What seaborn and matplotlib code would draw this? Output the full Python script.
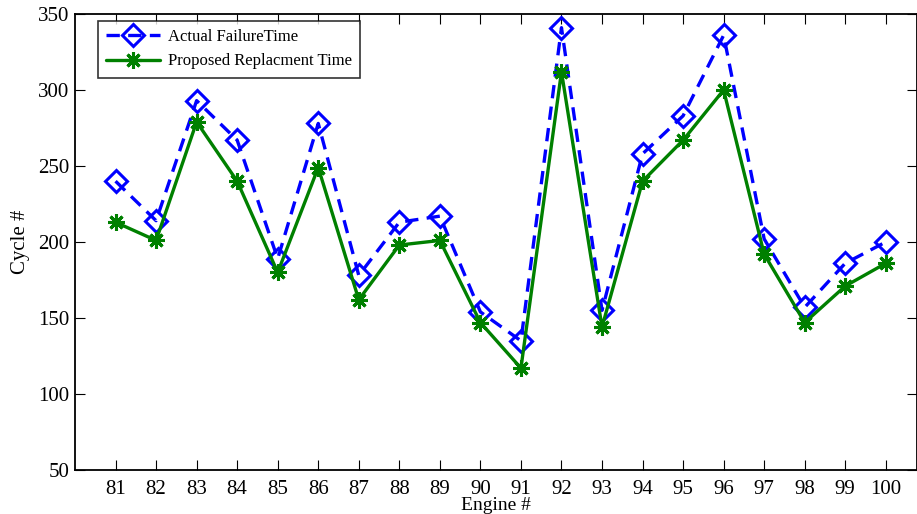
import matplotlib
matplotlib.use("Agg")
import matplotlib.pyplot as plt
import seaborn as sns
import pandas as pd

engines = list(range(81, 101))
actual_failure = [240, 214, 293, 267, 189, 278, 178, 213, 217, 154,
                  135, 341, 155, 258, 283, 336, 202, 157, 186, 200]
proposed_replacement = [213, 201, 279, 240, 180, 249, 162, 198, 201, 147,
                        117, 312, 144, 240, 267, 300, 192, 147, 171, 186]
xtick_labels = [str(e) for e in engines]
yticks = [50, 100, 150, 200, 250, 300, 350]

sns.set_theme(style="white")
plt.rcParams['font.family'] = ['Liberation Serif', 'DejaVu Serif']
plt.rcParams['text.color'] = 'black'
plt.rcParams['axes.labelcolor'] = 'black'
plt.rcParams['xtick.color'] = 'black'
plt.rcParams['ytick.color'] = 'black'

df = pd.DataFrame({"Engine": engines, "Actual": actual_failure,
                   "Proposed": proposed_replacement})

fig = plt.figure(figsize=(9.17, 5.14), dpi=100)
ax = fig.add_axes([0.0818, 0.0856, 0.9182, 0.8872])

sns.lineplot(data=df, x="Engine", y="Actual", ax=ax, color=(0, 0, 1),
             linewidth=2.4, marker='D', markersize=11, markerfacecolor='none',
             markeredgecolor=(0, 0, 1), markeredgewidth=2.2,
             label="Actual FailureTime")
ax.lines[-1].set_dashes((4, 2.5))
sns.lineplot(data=df, x="Engine", y="Proposed", ax=ax, color=(0, 0.5, 0),
             linewidth=2.4, marker=(8, 2, 0), markersize=12,
             markeredgecolor=(0, 0.5, 0), markeredgewidth=2.2,
             label="Proposed Replacment Time")

ax.set_xlim(80, 100.77)
ax.set_ylim(50, 350)
ax.set_xticks(engines)
ax.set_xticklabels(xtick_labels)
ax.set_yticks(yticks)
ax.set_xlabel("Engine #", fontsize=14, labelpad=-1)
ax.set_ylabel("Cycle #", fontsize=15, labelpad=6)
ax.tick_params(direction='in', length=7, width=0.8, labelsize=15,
               top=True, right=True, bottom=True, left=True)
ax.tick_params(axis='x', pad=7)
ax.tick_params(axis='y', pad=4)
for s in ax.spines.values():
    s.set_color('black')
    s.set_linewidth(1.3)

leg = ax.legend(loc='upper left', bbox_to_anchor=(0.0273, 0.985), fontsize=12,
                frameon=True, fancybox=False, edgecolor='black',
                borderaxespad=0, handlelength=3.2, borderpad=0.5,
                labelspacing=0.5, handletextpad=0.5)
leg.get_frame().set_linewidth(1.2)

fig.savefig("out.png", dpi=100)
